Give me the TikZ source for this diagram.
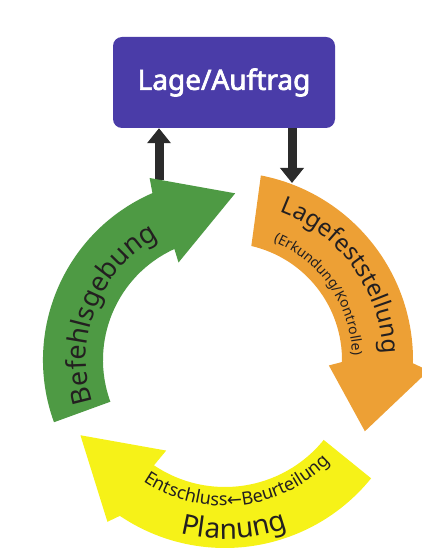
\documentclass[tikz,border=0pt]{standalone}
\usepackage{fontspec}
\setmainfont{Noto Sans}
\newfontfamily\kastenfont{Noto Sans}[FakeBold=2.5]
\newfontfamily\pfeilfont{DejaVu Sans}
\usetikzlibrary{arrows.meta,decorations.text}

\definecolor{lageblau}{HTML}{4A3CA8}
\definecolor{befehlgruen}{HTML}{4E9A44}
\definecolor{lageorange}{HTML}{EDA035}
\definecolor{planunggelb}{HTML}{F6F218}
\definecolor{pfeilgrau}{HTML}{2B2B2B}
\definecolor{schrift}{HTML}{231F20}

\tikzset{
  lagebox/.style={fill=lageblau, rounded corners=9pt, minimum width=222pt,
    minimum height=91pt, text=white, font=\kastenfont\fontsize{28}{28}\selectfont},
  pfeil/.style={draw=pfeilgrau, line width=9pt, -{Triangle[width=23pt,length=15pt]}},
  bogentext/.style={decorate, decoration={text along path, text align=center,
    text color=schrift, text={#1}}}
}

\begin{document}
\begin{tikzpicture}[x=1pt, y=1pt]
  \useasboundingbox (0,0) rectangle (422,560);

  \node[lagebox] (lage) at (224,477.5) {Lage/Auftrag};

  \coordinate (mitte) at (225,200);
  \coordinate (befehlspitze) at (159,380);
  \coordinate (feststart) at (292,377);

  % Pfeile zum und vom Lagekasten
  \draw[pfeil] (befehlspitze) -- (befehlspitze |- lage.south);
  \draw[pfeil] (feststart |- lage.south) -- (feststart);

  \begin{scope}[shift={(mitte)}]
    % Befehlsgebung
    \fill[befehlgruen] (200:182) arc[start angle=200, end angle=113.5, radius=182]
      -- (112.5:197) -- (86.5:167) -- (115.5:108) -- (114.5:122)
      arc[start angle=114.5, end angle=200, radius=122] -- cycle;
    \path[bogentext={|\fontsize{27}{27}\selectfont|Befehlsgebung}]
      (200:139) arc[start angle=200, end angle=116, radius=139];

    % Lagefeststellung
    \fill[lageorange] (79:188) arc[start angle=79, end angle=-1, radius=188]
      -- (-3:204) -- (-27:157) -- (-3:104) -- (-1:117)
      arc[start angle=-1, end angle=77, radius=117] -- cycle;
    \path[bogentext={|\fontsize{24}{24}\selectfont|Lagefeststellung}]
      (72:158) arc[start angle=72, end angle=0, radius=158];
    \path[bogentext={|\fontsize{14}{14}\selectfont|(Erkundung/Kontrolle)}]
      (70:128) arc[start angle=70, end angle=0, radius=128];

    % Planung
    \fill[planunggelb] (-39:188) arc[start angle=-39, end angle=-124, radius=188]
      -- (-126:200) -- (-152.5:163) -- (-123:108) -- (-124:127)
      arc[start angle=-124, end angle=-39, radius=127] -- cycle;
    \path[bogentext={|\fontsize{18}{18}\selectfont|Entschluss|\pfeilfont\fontsize{18}{18}\selectfont|←|\fontsize{18}{18}\selectfont|Beurteilung}]
      (-130:146) arc[start angle=-130, end angle=-38, radius=146];
    \path[bogentext={|\fontsize{28}{28}\selectfont|Planung}]
      (-108:179) arc[start angle=-108, end angle=-66, radius=179];
  \end{scope}
\end{tikzpicture}
\end{document}
